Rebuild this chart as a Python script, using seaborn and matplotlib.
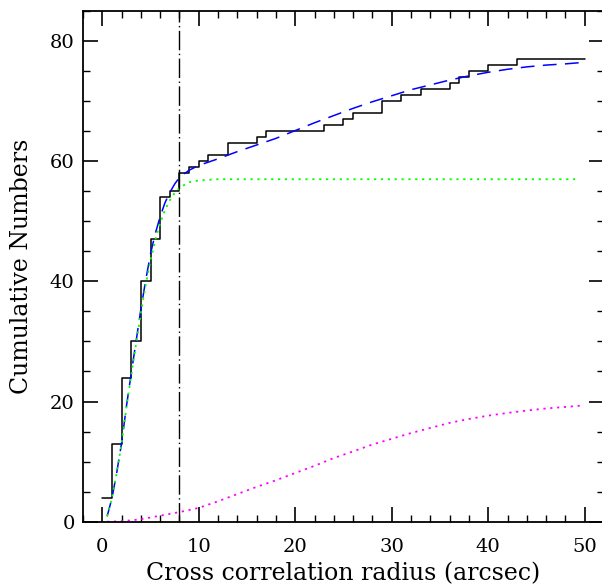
import matplotlib
matplotlib.use("Agg")
import matplotlib.pyplot as plt
from matplotlib.ticker import MultipleLocator
import pandas as pd
import seaborn as sns

# Cumulative number of counterparts found within each integer radius (arcsec)
radius_steps = list(range(0, 51))
cumulative_counts = [4, 13, 24, 30, 40, 47, 54, 55, 58, 59,
                     60, 61, 61, 63, 63, 63, 64, 65, 65, 65,
                     65, 65, 65, 66, 66, 67, 68, 68, 68, 70,
                     70, 71, 71, 72, 72, 72, 73, 74, 75, 75,
                     76, 76, 76, 77, 77, 77, 77, 77, 77, 77, 77]

# Model curves sampled along the radius
model_radius = [0.5, 1, 1.5, 2, 2.5, 3, 3.5, 4, 4.5, 5,
                5.5, 6, 6.5, 7, 7.5, 8, 9, 10, 12, 14,
                16, 18, 20, 22, 24, 26, 28, 30, 32, 34,
                36, 38, 40, 42, 44, 46, 48, 49.5]
model_total = [0.9, 3.9, 8.2, 13.1, 19.2, 24.7, 30.0, 35.4, 40.2, 44.6,
               48.0, 50.8, 53.1, 54.8, 56.2, 57.3, 58.5, 59.3, 60.4, 61.6,
               62.7, 63.8, 65.1, 66.4, 67.6, 68.8, 69.9, 70.9, 71.9, 72.7,
               73.5, 74.2, 74.8, 75.3, 75.7, 76.0, 76.2, 76.4]
model_true = [0.9, 3.9, 8.2, 13.0, 19.0, 24.4, 29.6, 34.8, 39.4, 43.5,
              46.9, 49.7, 51.9, 53.5, 54.7, 55.6, 56.5, 56.8, 57.0, 57.0,
              57.0, 57.0, 57.0, 57.0, 57.0, 57.0, 57.0, 57.0, 57.0, 57.0,
              57.0, 57.0, 57.0, 57.0, 57.0, 57.0, 57.0, 57.0]
model_random = [0.0, 0.02, 0.05, 0.1, 0.16, 0.23, 0.32, 0.42, 0.55, 0.7,
                0.85, 1.0, 1.15, 1.3, 1.45, 1.6, 1.95, 2.3, 3.4, 4.6,
                5.8, 6.9, 8.1, 9.3, 10.6, 11.7, 12.85, 13.8, 14.75, 15.6,
                16.45, 17.1, 17.65, 18.1, 18.5, 18.85, 19.1, 19.3]

adopted_radius = 8

steps = pd.DataFrame({"r": radius_steps, "n": cumulative_counts})
models = pd.DataFrame({"r": model_radius, "total": model_total,
                       "true": model_true, "random": model_random})

sns.set_theme(style="ticks")
plt.rcParams["font.family"] = ["DejaVu Serif"]
for key in ("text.color", "axes.labelcolor", "xtick.color", "ytick.color",
            "axes.edgecolor"):
    plt.rcParams[key] = "black"

W, H = 602, 585
fig = plt.figure(figsize=(W / 100, H / 100), dpi=100)
ax = fig.add_axes([83 / W, (H - 521.7) / H, (604 - 83) / W, 510.7 / H])

sns.lineplot(data=steps, x="r", y="n", ax=ax, color="black", lw=1.1,
             drawstyle="steps-post", estimator=None, sort=False)
sns.lineplot(data=models, x="r", y="total", ax=ax, color="#0000ff", lw=1.1,
             linestyle=(0, (9, 5.5)), estimator=None, sort=False)
sns.lineplot(data=models, x="r", y="true", ax=ax, color="#00ff00", lw=1.3,
             linestyle=(0, (1.2, 2.6)), estimator=None, sort=False)
sns.lineplot(data=models, x="r", y="random", ax=ax, color="#ff00ff", lw=1.3,
             linestyle=(0, (1.2, 2.6)), estimator=None, sort=False)
ax.axvline(adopted_radius, color="black", lw=1.0,
           linestyle=(0, (14, 2.5, 1, 2.5)))

ax.set_xlim(-2, 52)
ax.set_ylim(0, 85)
ax.xaxis.set_major_locator(MultipleLocator(10))
ax.xaxis.set_minor_locator(MultipleLocator(2))
ax.yaxis.set_major_locator(MultipleLocator(20))
ax.yaxis.set_minor_locator(MultipleLocator(5))
ax.tick_params(which="both", direction="in", top=True, right=True,
               color="black", labelcolor="black", labelsize=14)
ax.tick_params(which="major", length=10.5, width=1.2)
ax.tick_params(which="minor", length=5.2, width=1.0)
ax.tick_params(axis="x", which="major", pad=11.5)
ax.tick_params(axis="y", which="major", pad=6)
for s in ax.spines.values():
    s.set_linewidth(1.3)
    s.set_color("black")

ax.set_xlabel("Cross correlation radius (arcsec)", fontsize=17, labelpad=4.5)
ax.set_ylabel("Cumulative Numbers", fontsize=17, labelpad=12)

fig.savefig("out.png", dpi=100)
